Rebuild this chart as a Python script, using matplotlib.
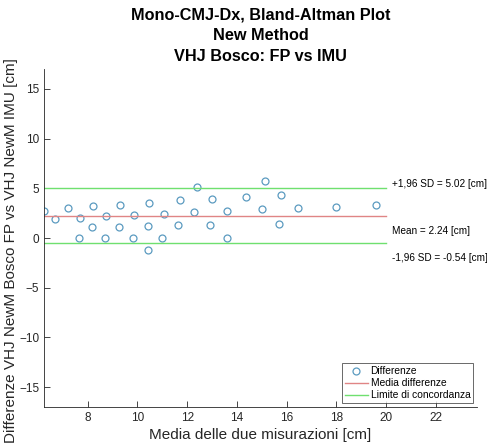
import numpy as np
import matplotlib.pyplot as plt

plt.rcParams['font.family'] = ['Liberation Sans', 'DejaVu Sans']

# media delle due misurazioni [cm]
media = [6.24, 6.68, 7.21, 7.64, 7.67, 8.17, 8.21, 8.69, 8.73, 9.25, 9.31,
         9.81, 9.85, 10.41, 10.41, 10.45, 11.00, 11.05, 11.64, 11.69, 12.28,
         12.39, 12.92, 12.99, 13.59, 13.59, 14.35, 15.01, 15.11, 15.69, 15.77,
         16.45, 18.00, 19.59]
# differenze FP - IMU [cm]
diff = [2.73, 1.90, 2.97, 0.00, 2.00, 1.07, 3.17, 0.00, 2.17, 1.13, 3.37,
        0.00, 2.33, -1.17, 1.17, 3.57, 0.00, 2.43, 1.27, 3.80, 2.57,
        5.17, 1.33, 3.97, 0.00, 2.73, 4.13, 2.87, 5.70, 1.43, 4.37,
        3.00, 3.10, 3.27]

mean_diff = 2.24
upper_loa = 5.02
lower_loa = -0.54

fig = plt.figure(figsize=(4.87, 4.47), dpi=100)
ax = fig.add_axes([0.0903, 0.0895, 0.8892, 0.7561])

ax.plot(media, diff, 'o', markerfacecolor='none', markeredgecolor='#5b9bc0',
        markersize=5, markeredgewidth=0.9, label='Differenze')
x_line = [6.24, 20.0]
ax.plot(x_line, [mean_diff, mean_diff], color='#e08585', lw=1.0, label='Media differenze')
ax.plot(x_line, [upper_loa, upper_loa], color='#6fe06f', lw=1.0, label='Limite di concordanza')
ax.plot(x_line, [lower_loa, lower_loa], color='#6fe06f', lw=1.0)

ax.text(20.25, upper_loa + 0.4, '+1,96 SD = %.2f [cm]' % upper_loa, fontsize=7.2, va='center')
ax.text(20.25, mean_diff - 1.5, 'Mean = %.2f [cm]' % mean_diff, fontsize=7.2, va='center')
ax.text(20.25, lower_loa - 1.5, '-1,96 SD = %.2f [cm]' % lower_loa, fontsize=7.2, va='center')

ax.set_xlim(6.24, 23.65)
ax.set_ylim(-17, 17)
ax.set_xticks([8, 10, 12, 14, 16, 18, 20, 22])
ax.set_yticks([-15, -10, -5, 0, 5, 10, 15])
ax.tick_params(direction='in', length=4, width=0.6, colors='#262626', labelsize=8.5)
for s in ['top', 'right']:
    ax.spines[s].set_visible(False)
for s in ['left', 'bottom']:
    ax.spines[s].set_linewidth(0.6)
    ax.spines[s].set_color('#262626')

ax.set_xlabel('Media delle due misurazioni [cm]', fontsize=11, color='#262626', labelpad=3)
ax.set_ylabel('Differenze VHJ NewM Bosco FP vs VHJ NewM IMU [cm]', fontsize=11,
              color='#262626')
ax.yaxis.set_label_coords(-0.06, 0.464)
ax.set_title('Mono-CMJ-Dx, Bland-Altman Plot\nNew Method\nVHJ Bosco: FP vs IMU',
             fontsize=11.7, fontweight='bold', linespacing=1.45, pad=6)

leg = ax.legend(loc='lower right', fontsize=7.4, frameon=True, fancybox=False,
                edgecolor='#262626', borderaxespad=0.35, handlelength=2.2,
                handletextpad=0.3, labelspacing=0.2, borderpad=0.3)
leg.get_frame().set_linewidth(0.6)

fig.savefig('out.png', dpi=100)
